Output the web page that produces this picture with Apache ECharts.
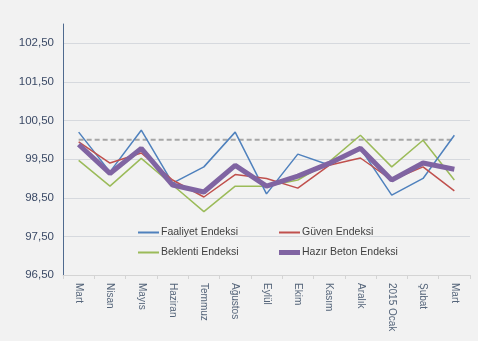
<!DOCTYPE html>
<html><head><meta charset="utf-8">
<script src="https://cdn.jsdelivr.net/npm/echarts@6/dist/echarts.min.js"></script>
<style>html,body{margin:0;padding:0;background:#f2f2f2;}#c{width:478px;height:341px;}</style>
</head><body><div id="c"></div>
<script>
var categories = ['Mart','Nisan','Mayıs','Haziran','Temmuz','Ağustos','Eylül','Ekim','Kasım','Aralık','2015 Ocak','Şubat','Mart'];
var faaliyet = [100.2, 99.17, 100.25, 98.88, 99.3, 100.2, 98.6, 99.63, 99.35, 99.78, 98.57, 99.0, 100.12];
var guven    = [99.95, 99.4, 99.66, 98.96, 98.52, 99.1, 99.0, 98.75, 99.34, 99.53, 98.96, 99.3, 98.68];
var beklenti = [99.47, 98.8, 99.52, 98.83, 98.14, 98.8, 98.8, 98.96, 99.43, 100.12, 99.3, 99.99, 98.96];
var hazir    = [99.88, 99.13, 99.78, 98.83, 98.65, 99.34, 98.8, 99.06, 99.39, 99.78, 98.96, 99.4, 99.24];
var baseline = [100,100,100,100,100,100,100,100,100,100,100,100,100];
var yTicks = ['96,50','97,50','98,50','99,50','100,50','101,50','102,50'];

var chart = echarts.init(document.getElementById('c'));
var font = 'Liberation Sans';
function line(name, data, color, width, z) {
  return {name: name, type: 'line', data: data, symbol: 'none', z: z,
    lineStyle: {color: color, width: width}, itemStyle: {color: color}};
}
function leg(name, left, top, h) {
  return {left: left, top: top, icon: 'rect', itemWidth: 21, itemHeight: h, itemGap: 0,
    textStyle: {fontFamily: font, fontSize: 10.5, color: '#404040', padding: [0, 0, 0, -3]},
    data: [name]};
}
chart.setOption({
  backgroundColor: '#f2f2f2',
  animation: false,
  grid: {left: 63, right: 8, top: 24, bottom: 66},
  legend: [
    leg('Faaliyet Endeksi', 133, 222, 2),
    leg('Beklenti Endeksi', 133, 242, 2),
    leg('Güven Endeksi', 274, 222, 2),
    leg('Hazır Beton Endeksi', 274, 242, 5)
  ],
  xAxis: {
    type: 'category', data: categories, boundaryGap: true,
    axisLine: {lineStyle: {color: '#d4d4d4'}},
    axisTick: {show: true, lineStyle: {color: '#d4d4d4'}, length: 4},
    axisLabel: {rotate: -90, interval: 0, fontFamily: font, fontSize: 10, color: '#55657a', margin: 8}
  },
  yAxis: {
    type: 'value', min: 96.5, max: 103, interval: 1,
    axisLine: {show: true, lineStyle: {color: '#4f6a8f', width: 1}},
    axisTick: {show: false},
    axisLabel: {showMaxLabel: false, fontFamily: font, fontSize: 11.5, color: '#3b4a66', margin: 9,
      formatter: function (v) { var i = Math.round(v - 96.5); return yTicks[i] || ''; }},
    splitLine: {show: true, showMaxLine: false, lineStyle: {color: '#d6d9de', width: 1}}
  },
  series: [
    {name: 'ref', type: 'line', data: baseline, symbol: 'none', z: 1, silent: true,
     lineStyle: {color: '#a6a6a6', width: 2, type: [5, 3]}},
    line('Faaliyet Endeksi', faaliyet, '#4f81bd', 1.5, 3),
    line('Güven Endeksi', guven, '#c0504d', 1.5, 4),
    line('Beklenti Endeksi', beklenti, '#9bbb59', 1.5, 2),
    line('Hazır Beton Endeksi', hazir, '#8064a2', 5, 5)
  ]
});
</script></body></html>
